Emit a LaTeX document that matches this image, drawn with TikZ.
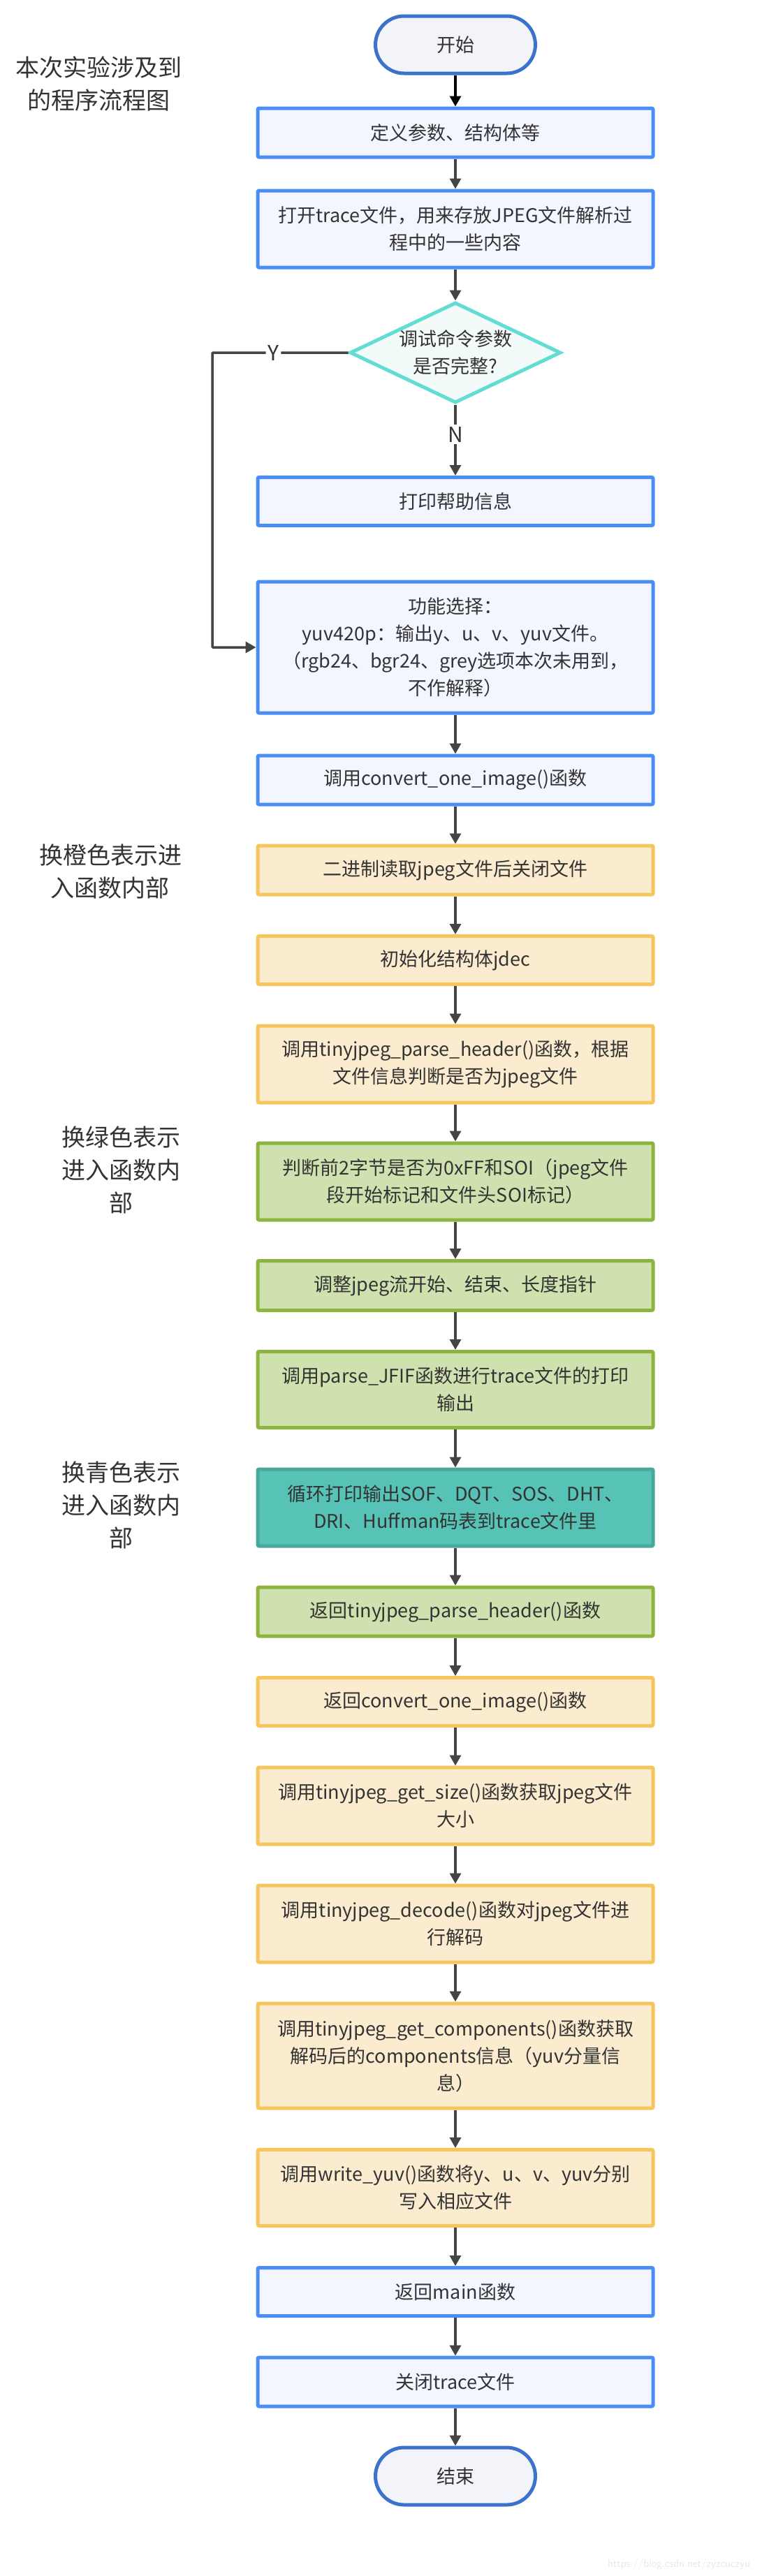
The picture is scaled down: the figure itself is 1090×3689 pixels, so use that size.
\documentclass[tikz,border=0pt]{standalone}
\usepackage{fontspec}
\setmainfont{Noto Sans CJK SC}
\usepackage{tikz}
\usetikzlibrary{arrows.meta,shapes.geometric}
\definecolor{procblue}{HTML}{4A8DF6}
\definecolor{procfill}{HTML}{F3F6FE}
\definecolor{termblue}{HTML}{3B73CC}
\definecolor{termfill}{HTML}{F3F4F9}
\definecolor{orangeline}{HTML}{F6C55B}
\definecolor{orangefill}{HTML}{FBEBCF}
\definecolor{greenline}{HTML}{8DB43E}
\definecolor{greenfill}{HTML}{CFE1AF}
\definecolor{tealline}{HTML}{48A89B}
\definecolor{tealfill}{HTML}{56C3B6}
\definecolor{diamondline}{HTML}{62DDD2}
\definecolor{diamondfill}{HTML}{F3FAFA}
\definecolor{arrowgray}{HTML}{444444}
\definecolor{textgray}{HTML}{333333}
\tikzset{
  process box/.style={rectangle,line width=5pt,rounded corners=2pt,minimum width=566pt,
    inner sep=0pt,align=center,text=textgray,font=\fontsize{27}{39}\selectfont},
  blue box/.style={process box,draw=procblue,fill=procfill},
  orange box/.style={process box,draw=orangeline,fill=orangefill},
  green box/.style={process box,draw=greenline,fill=greenfill},
  teal box/.style={process box,draw=tealline,fill=tealfill},
  terminal box/.style={rectangle,rounded corners=41pt,line width=5pt,draw=termblue,fill=termfill,
    minimum width=229pt,minimum height=82pt,text=textgray,font=\fontsize{27}{39}\selectfont},
  decision box/.style={diamond,line width=5pt,draw=diamondline,fill=diamondfill,
    minimum width=302pt,minimum height=144pt,inner sep=0pt},
  decision text/.style={align=center,text=textgray,font=\fontsize{27}{39}\selectfont},
  note text/.style={align=center,text=textgray,font=\fontsize{34}{47}\selectfont},
  flow arrow/.style={line width=3.5pt,arrowgray,-{Triangle[width=16pt,length=15pt]}},
  first arrow/.style={flow arrow,black},
  flow label/.style={fill=white,inner sep=3pt,text=textgray,font=\fontsize{30}{30}\selectfont},
}

\begin{document}
\begin{tikzpicture}[x=1pt,y=-1pt]
\fill[white] (0,0) rectangle (1090,3689);
\useasboundingbox (0,0) rectangle (1090,3689);
% notes on the left
\node[note text] (notemain) at (142,120) {本次实验涉及到\\的程序流程图};
\node[note text] (noteorange) at (158,1248) {换橙色表示进\\入函数内部};
\node[note text] (notegreen) at (173,1675) {换绿色表示\\进入函数内\\部};
\node[note text] (noteteal) at (173,2155) {换青色表示\\进入函数内\\部};
% main column
\node[terminal box] (start) at (652,64) {开始};
\node[blue box,minimum height=70pt] (define) at (652,190) {定义参数、结构体等};
\node[blue box,minimum height=110pt] (trace) at (652,328) {打开trace文件，用来存放JPEG文件解析过\\程中的一些内容};
\node[decision box] (check) at (652,505) {};
\node[decision text] (checktext) at (check.center) {调试命令参数\\是否完整?};
\node[blue box,minimum height=69pt] (help) at (652,718) {打印帮助信息};
\node[blue box,minimum height=188pt] (func) at (652,927) {功能选择：\\yuv420p：输出y、u、v、yuv文件。\\（rgb24、bgr24、grey选项本次未用到，\\不作解释）};
\node[blue box,minimum height=70pt] (convert) at (652,1117) {调用convert\_one\_image()函数};
\node[orange box,minimum height=70pt] (readfile) at (652,1246) {二进制读取jpeg文件后关闭文件};
\node[orange box,minimum height=69pt] (initdec) at (652,1375) {初始化结构体jdec};
\node[orange box,minimum height=110pt] (header) at (652,1524) {调用tinyjpeg\_parse\_header()函数，根据\\文件信息判断是否为jpeg文件};
\node[green box,minimum height=110pt] (soi) at (652,1692) {判断前2字节是否为0xFF和SOI（jpeg文件\\段开始标记和文件头SOI标记）};
\node[green box,minimum height=71pt] (adjust) at (652,1841) {调整jpeg流开始、结束、长度指针};
\node[green box,minimum height=109pt] (jfif) at (652,1990) {调用parse\_JFIF函数进行trace文件的打印\\输出};
\node[teal box,minimum height=110pt] (tables) at (652,2159) {循环打印输出SOF、DQT、SOS、DHT、\\DRI、Huffman码表到trace文件里};
\node[green box,minimum height=70pt] (retheader) at (652,2308) {返回tinyjpeg\_parse\_header()函数};
\node[orange box,minimum height=69pt] (retconvert) at (652,2437) {返回convert\_one\_image()函数};
\node[orange box,minimum height=110pt] (getsize) at (652,2586) {调用tinyjpeg\_get\_size()函数获取jpeg文件\\大小};
\node[orange box,minimum height=110pt] (decode) at (652,2755) {调用tinyjpeg\_decode()函数对jpeg文件进\\行解码};
\node[orange box,minimum height=150pt] (components) at (652,2944) {调用tinyjpeg\_get\_components()函数获取\\解码后的components信息（yuv分量信\\息）};
\node[orange box,minimum height=109pt] (writeyuv) at (652,3133) {调用write\_yuv()函数将y、u、v、yuv分别\\写入相应文件};
\node[blue box,minimum height=69pt] (retmain) at (652,3282) {返回main函数};
\node[blue box,minimum height=70pt] (closetrace) at (652,3411) {关闭trace文件};
\node[terminal box] (stop) at (652,3546) {结束};
% connectors
\draw[first arrow] (start) -- (define);
\foreach \a/\b in {define/trace,trace/check,func/convert,convert/readfile,readfile/initdec,
  initdec/header,header/soi,soi/adjust,adjust/jfif,jfif/tables,tables/retheader,
  retheader/retconvert,retconvert/getsize,getsize/decode,decode/components,
  components/writeyuv,writeyuv/retmain,retmain/closetrace,closetrace/stop} {
  \draw[flow arrow] (\a) -- (\b);
}
\draw[flow arrow] (check) -- node[flow label,pos=0.42] {N} (help);
\coordinate (yturn) at (304,505);
\draw[flow arrow,rounded corners=1pt] (check.west) -- node[flow label,pos=0.55] {Y} (yturn) |- (func.west);
\node[text=black!9,font=\fontsize{16}{16}\selectfont\sffamily] (mark) at (972,3672) {https://blog.csdn.net/zyzcuczyu};
\end{tikzpicture}
\end{document}
